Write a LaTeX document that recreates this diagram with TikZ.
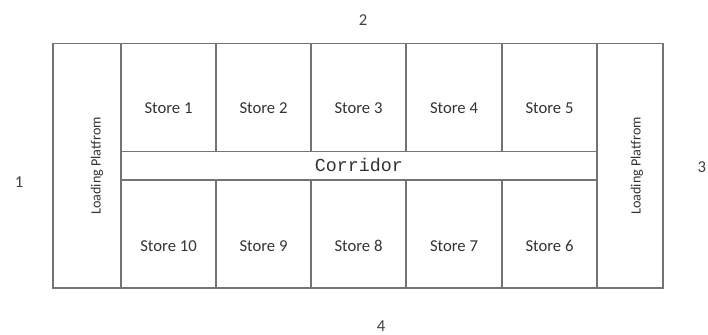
\documentclass[tikz,border=0pt]{standalone}
\usepackage{fontspec}
\setmainfont{Carlito}
\newfontfamily\corridorfont{Liberation Mono}

\tikzset{
  wall/.style={draw=black!55, line width=0.7pt},
  storelabel/.style={font=\fontsize{10}{12}\selectfont, text=black!80},
  platformlabel/.style={font=\fontsize{8.5}{10}\selectfont, text=black!80, rotate=90},
  sidelabel/.style={font=\fontsize{10}{12}\selectfont, text=black!75}
}

\begin{document}
\begin{tikzpicture}[x=0.6pt,y=-0.6pt]
\useasboundingbox (0,0) rectangle (708,335);
% outer walls and platforms
\draw[wall] (53,43.5) rectangle (663,288);
\draw[wall] (121,43.5)--(121,288);
\draw[wall] (597,43.5)--(597,288);
% corridor
\draw[wall] (121,151.5)--(597,151.5);
\draw[wall] (121,180)--(597,180);
% store walls
\foreach \x in {216,311,406,502}{
  \draw[wall] (\x,43.5)--(\x,151.5);
  \draw[wall] (\x,180)--(\x,288);
}
% store labels
\foreach \n/\m/\x in {1/10/168.5,2/9/263.5,3/8/358.5,4/7/454,5/6/549.5}{
  \node[storelabel] (store\n) at (\x,108) {Store \n};
  \node[storelabel] (store\m) at (\x,246) {Store \m};
}
\node[font=\corridorfont\fontsize{11}{13}\selectfont, text=black!80] (corridor) at (359,165) {Corridor};
\node[platformlabel] (platformW) at (97,166) {Loading Platfrom};
\node[platformlabel] (platformE) at (637,166) {Loading Platfrom};
% sides
\node[sidelabel] (side1) at (19,182) {1};
\node[sidelabel] (side2) at (363,20) {2};
\node[sidelabel, anchor=east, inner sep=1pt] (side3) at (708,167) {3};
\node[sidelabel] (side4) at (381,326) {4};
\end{tikzpicture}
\end{document}
